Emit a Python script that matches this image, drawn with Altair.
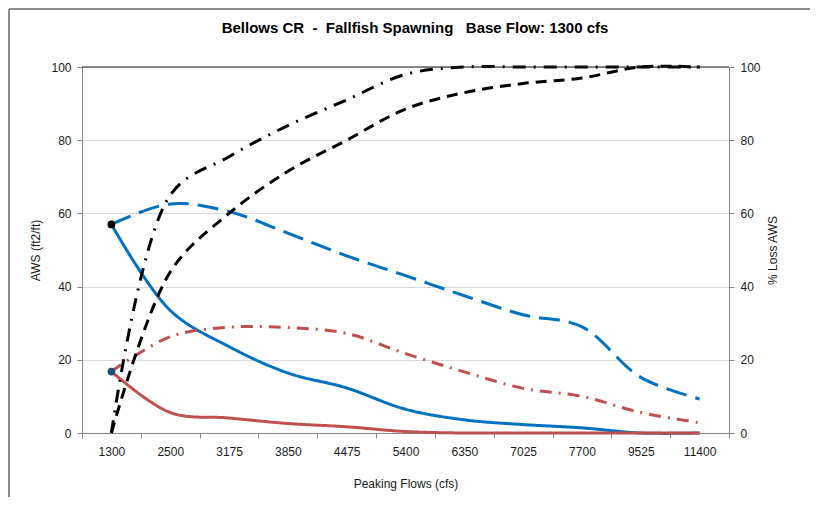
import altair as alt
import pandas as pd

flows = ["1300", "2500", "3175", "3850", "4475", "5400", "6350", "7025", "7700", "9525", "11400"]

blue_solid = [57, 33.5, 23.6, 16.4, 12.3, 6.5, 3.6, 2.3, 1.4, 0, 0]
blue_dashed = [57, 62.6, 60.5, 54.6, 48.4, 43.0, 37.5, 32.3, 29.0, 15.2, 9.3]
red_solid = [16.8, 5.6, 4.1, 2.6, 1.7, 0.4, 0, 0, 0, 0, 0]
red_dashdot = [16.8, 26.3, 28.9, 28.8, 27.2, 21.7, 16.7, 12.2, 10.0, 5.6, 2.8]
black_dashed = [0, 44, 60, 71.5, 80, 88.5, 93, 95.5, 97, 100, 100]
black_dashdot = [0, 65, 75.5, 84, 91, 98, 100, 100, 100, 100, 100]

start_points = [57, 16.8]
start_colors = ["#000000", "#1f4e79"]

NB = "\u00a0"
title_text = f"Bellows CR{NB}{NB}-{NB}{NB}Fallfish Spawning{NB}{NB}{NB}Base Flow: 1300 cfs"

FONT = "Liberation Sans"

def frame(vals, name):
    return pd.DataFrame({"flow": flows, "value": vals, "series": name})

x_enc = alt.X("flow:N", sort=flows, scale=alt.Scale(paddingInner=0, paddingOuter=0),
              axis=alt.Axis(title="Peaking Flows (cfs)", labelAngle=0, tickBand="extent",
                            domainColor="#868686", tickColor="#868686", tickSize=5,
                            labelPadding=8, titlePadding=21, labelFontSize=12,
                            titleFontSize=12, titleFontWeight="normal",
                            labelColor="#1a1a1a", titleColor="#1a1a1a",
                            labelFont=FONT, titleFont=FONT))

yl_axis = alt.Axis(title="AWS (ft2/ft)", values=[0, 20, 40, 60, 80, 100], grid=True,
                   gridColor="#d9d9d9", domainColor="#868686", tickColor="#868686",
                   tickSize=5, labelPadding=6, titlePadding=8, labelFontSize=12,
                   titleFontSize=12, titleFontWeight="normal", labelColor="#1a1a1a",
                   titleColor="#1a1a1a", labelFont=FONT, titleFont=FONT)
yr_axis = alt.Axis(title="% Loss AWS", orient="right", values=[0, 20, 40, 60, 80, 100],
                   grid=False, domainColor="#868686", tickColor="#868686",
                   tickSize=5, labelPadding=6, titlePadding=19, labelFontSize=12,
                   titleFontSize=12, titleFontWeight="normal", titleAngle=270,
                   labelColor="#1a1a1a", titleColor="#1a1a1a", labelFont=FONT, titleFont=FONT)

yscale = alt.Scale(domain=[0, 100], nice=False)

def line(vals, name, color, dash, axis):
    m = alt.Chart(frame(vals, name)).mark_line(
        color=color, strokeWidth=3, strokeDash=dash, interpolate="catmull-rom")
    return m.encode(x=x_enc, y=alt.Y("value:Q", scale=yscale, axis=axis))

left = alt.layer(
    line(blue_dashed, "bd", "#0070c0", [21, 9], yl_axis),
    line(blue_solid, "bs", "#0070c0", [1, 0], yl_axis),
    line(red_dashdot, "rdd", "#c0504d", [12, 7, 2, 7], yl_axis),
    line(red_solid, "rs", "#c0504d", [1, 0], yl_axis),
    alt.Chart(pd.DataFrame({"flow": [flows[0], flows[0]], "value": start_points,
                            "c": start_colors})).mark_point(
        filled=True, size=60, opacity=1).encode(
        x=x_enc, y=alt.Y("value:Q", scale=yscale, axis=yl_axis),
        color=alt.Color("c:N", scale=None)),
)

right = alt.layer(
    line(black_dashed, "kd", "#000000", [11, 7], yr_axis),
    line(black_dashdot, "kdd", "#000000", [13, 8, 2, 8], yr_axis),
)

one = pd.DataFrame({"t": [title_text]})
top100 = alt.Chart(one).mark_rule(color="#1a1a1a", strokeWidth=1).encode(
    x=alt.value(0), x2=alt.value(647), y=alt.value(0))
border_left = alt.Chart(one).mark_rule(color="#8c8c8c", strokeWidth=2).encode(
    x=alt.value(-73), y=alt.value(-58), y2=alt.value(440))
border_top = alt.Chart(one).mark_rule(color="#8c8c8c", strokeWidth=2).encode(
    x=alt.value(-73), x2=alt.value(740), y=alt.value(-58))
title_mark = alt.Chart(one).mark_text(
    font=FONT, fontSize=15, fontWeight="bold", color="#000000",
    align="center", baseline="middle").encode(
    text="t:N", x=alt.value(333), y=alt.value(-39))

chart = alt.layer(left, right, top100, border_left, border_top, title_mark).resolve_scale(
    y="independent"
).properties(
    width=647, height=366,
    autosize=alt.AutoSizeParams(type="none"),
    padding={"left": 74, "top": 59, "right": 81, "bottom": 64},
).configure_view(stroke=None)

chart.save("out.html", embed_options={"renderer": "svg", "actions": False})
